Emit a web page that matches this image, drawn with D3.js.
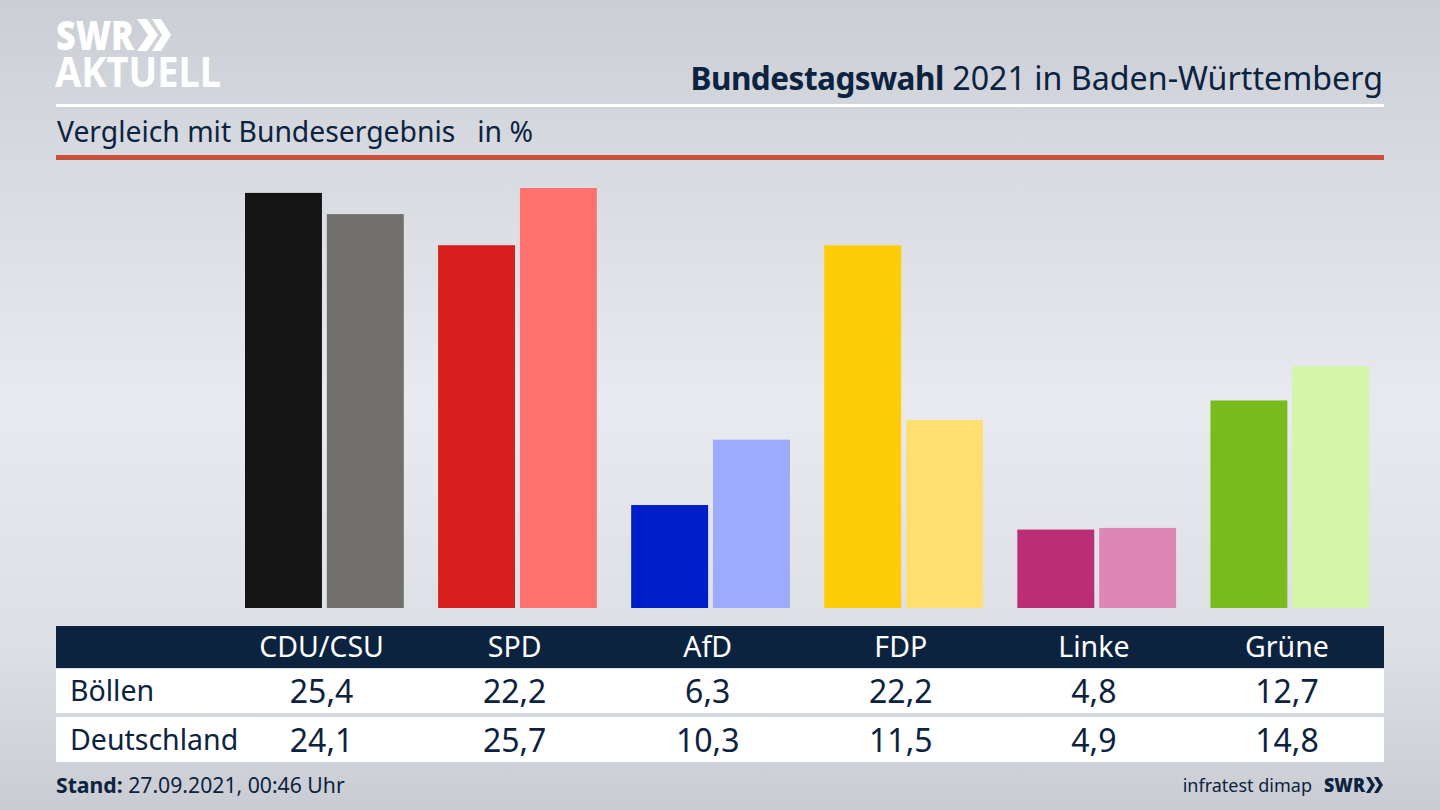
<!DOCTYPE html>
<html>
<head>
<meta charset="utf-8">
<script src="https://cdnjs.cloudflare.com/ajax/libs/d3/7.8.5/d3.min.js"></script>
<style>
  html, body { margin: 0; padding: 0; background: #d5d8de; overflow: hidden; }
  text { font-family: "Noto Sans", sans-serif; fill: #0c2340; }
</style>
</head>
<body>
<div id="chart"></div>
<script>
// Data
var parties = ["CDU/CSU", "SPD", "AfD", "FDP", "Linke", "Grüne"];
var boellen = [25.4, 22.2, 6.3, 22.2, 4.8, 12.7];
var deutschland = [24.1, 25.7, 10.3, 11.5, 4.9, 14.8];
var boellenColors = ["#141414", "#d71f1d", "#001ec8", "#ffcc0a", "#bb2d76", "#78bc1b"];
var deutschlandColors = ["#716f6c", "#ff716c", "#9dabff", "#ffdf70", "#de86b6", "#d3f6a8"];
var rowNames = ["Böllen", "Deutschland"];

var width = 1440, height = 810;
var navy = "#0c2340";
var fmt = function(v) { return v.toFixed(1).replace(".", ","); };

var svg = d3.select("#chart")
  .append("svg")
  .attr("width", width)
  .attr("height", height)
  .style("display", "block");

// Background
var grad = svg.append("defs").append("linearGradient")
  .attr("id", "bg").attr("x1", 0).attr("y1", 0).attr("x2", 0).attr("y2", 1);
[[0, "#cbced5"], [0.18, "#d6d9df"], [0.5, "#e9eaef"], [0.8, "#dcdfe4"], [1, "#c9ccd3"]].forEach(function(s) {
  grad.append("stop").attr("offset", s[0]).attr("stop-color", s[1]);
});
svg.append("rect").attr("width", width).attr("height", height).attr("fill", "url(#bg)");

// Logo
var logo = svg.append("g").attr("fill", "#fff");
var logoText = logo.append("text").style("fill", "#fff");
logoText.append("tspan").attr("x", 56).attr("y", 50)
  .style("font-weight", 900).style("font-size", "41px")
  .attr("textLength", 78).attr("lengthAdjust", "spacingAndGlyphs")
  .text("SWR");
logoText.append("tspan").attr("x", 55).attr("y", 87)
  .style("font-weight", 700).style("font-size", "42px")
  .attr("textLength", 166).attr("lengthAdjust", "spacingAndGlyphs")
  .text("AKTUELL");
logo.append("path").attr("d", "M137,19h10l11,16l-11,16h-10l11,-16z M152,19h9l10,16l-10,16h-9l10,-16z");

// Header
var title = svg.append("text")
  .attr("x", 1383).attr("y", 90)
  .attr("text-anchor", "end")
  .style("font-size", "32.2px");
title.append("tspan").style("font-weight", 700).style("font-size", "31.5px").style("letter-spacing", "-0.5px").text("Bundestagswahl");
title.append("tspan").text(" 2021 in Baden-Württemberg");

svg.append("rect").attr("x", 56).attr("y", 104).attr("width", 1328).attr("height", 3).attr("fill", "#fff");

svg.append("text").attr("x", 57).attr("y", 142)
  .style("font-size", "28.3px")
  .style("white-space", "pre")
  .text("Vergleich mit Bundesergebnis   in %");

svg.append("rect").attr("x", 56).attr("y", 155).attr("width", 1328).attr("height", 5).attr("fill", "#c8503c");

// Scales
var xGroup = d3.scaleBand().domain(parties).range([228, 1386.5]);
var xInner = d3.scaleBand().domain([0, 1]).range([17, xGroup.bandwidth() - 17.3]).paddingInner(0.06);
var y = d3.scaleLinear().domain([0, 25.7]).range([608, 188]);

// Bars
var groups = svg.selectAll(".group")
  .data(parties)
  .enter().append("g")
  .attr("class", "group")
  .attr("transform", function(d) { return "translate(" + xGroup(d) + ",0)"; });

groups.append("rect")
  .attr("x", xInner(0))
  .attr("width", xInner.bandwidth())
  .attr("y", function(d, i) { return y(boellen[i]); })
  .attr("height", function(d, i) { return y(0) - y(boellen[i]); })
  .attr("fill", function(d, i) { return boellenColors[i]; });

groups.append("rect")
  .attr("x", xInner(1))
  .attr("width", xInner.bandwidth())
  .attr("y", function(d, i) { return y(deutschland[i]); })
  .attr("height", function(d, i) { return y(0) - y(deutschland[i]); })
  .attr("fill", function(d, i) { return deutschlandColors[i]; });

// Table
svg.append("rect").attr("x", 56).attr("y", 626).attr("width", 1328).attr("height", 42).attr("fill", navy);
svg.append("rect").attr("x", 56).attr("y", 669).attr("width", 1328).attr("height", 44).attr("fill", "#fff");
svg.append("rect").attr("x", 56).attr("y", 717).attr("width", 1328).attr("height", 45).attr("fill", "#fff");

var labelX = function(d) { return xGroup(d) + xGroup.bandwidth() / 2 - 3; };

svg.selectAll(".head")
  .data(parties)
  .enter().append("text")
  .attr("class", "head")
  .attr("x", labelX)
  .attr("y", 657)
  .attr("text-anchor", "middle")
  .style("fill", "#fff")
  .style("font-size", "28.5px")
  .text(function(d) { return d; });

[boellen, deutschland].forEach(function(values, r) {
  var base = r === 0 ? 701 : 750;
  svg.append("text").attr("x", 70).attr("y", base)
    .style("font-size", "28.5px")
    .text(rowNames[r]);
  svg.selectAll(".val" + r)
    .data(parties)
    .enter().append("text")
    .attr("class", "val" + r)
    .attr("x", labelX)
    .attr("y", base + 1.5)
    .attr("text-anchor", "middle")
    .style("font-size", "32px")
    .text(function(d, i) { return fmt(values[i]); });
});

// Footer
var stand = svg.append("text").attr("x", 56).attr("y", 793).style("font-size", "21.2px");
stand.append("tspan").style("font-weight", 700).text("Stand:");
stand.append("tspan").text(" 27.09.2021, 00:46 Uhr");

svg.append("text").attr("x", 1312).attr("y", 792)
  .attr("text-anchor", "end")
  .style("font-size", "18px")
  .text("infratest dimap");
svg.append("text").attr("x", 1324).attr("y", 792)
  .style("font-size", "20px").style("font-weight", 900)
  .attr("textLength", 41).attr("lengthAdjust", "spacingAndGlyphs")
  .text("SWR");
svg.append("path").attr("fill", navy)
  .attr("d", "M1366,777h4l5,8l-5,8h-4l5,-8z M1374,777h4l5,8l-5,8h-4l5,-8z");
</script>
</body>
</html>
